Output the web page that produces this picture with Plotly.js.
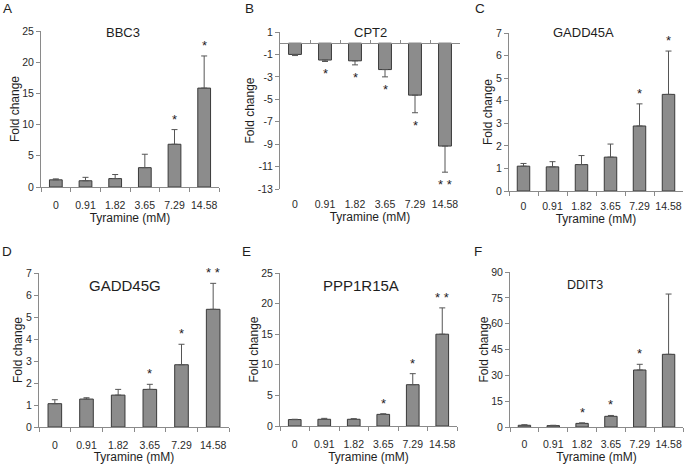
<!DOCTYPE html>
<html><head><meta charset="utf-8">
<script src="https://cdn.plot.ly/plotly-3.0.1.min.js"></script>
<style>html,body{margin:0;padding:0;background:#fff}#chart{width:685px;height:464px}</style>
</head><body><div id="chart"></div>
<script>
// ---- data ----
const doses = ['0', '0.91', '1.82', '3.65', '7.29', '14.58'];
const genes = ['BBC3', 'CPT2', 'GADD45A', 'GADD45G', 'PPP1R15A', 'DDIT3'];
const panelLetters = ['A', 'B', 'C', 'D', 'E', 'F'];

const bbc3 = [1.15, 1.0, 1.35, 3.1, 6.85, 15.85];
const bbc3Err = [0.15, 0.55, 0.65, 2.15, 2.35, 5.15];
const bbc3Sig = ['', '', '', '', '*', '*'];

const cpt2 = [-1.0, -1.5, -1.57, -2.35, -4.63, -9.17];
const cpt2Err = [0.1, 0.13, 0.36, 0.65, 1.57, 2.33];
const cpt2Sig = ['', '*', '*', '*', '*', '**'];

const gadd45a = [1.1, 1.07, 1.17, 1.5, 2.88, 4.28];
const gadd45aErr = [0.12, 0.23, 0.4, 0.58, 0.98, 1.92];
const gadd45aSig = ['', '', '', '', '*', '*'];

const gadd45g = [1.06, 1.27, 1.45, 1.71, 2.83, 5.35];
const gadd45gErr = [0.18, 0.06, 0.26, 0.23, 0.93, 1.18];
const gadd45gSig = ['', '', '', '*', '*', '**'];

const ppp1r15a = [1.05, 1.1, 1.1, 1.9, 6.75, 15.0];
const ppp1r15aErr = [0.05, 0.15, 0.1, 0.1, 1.8, 4.3];
const ppp1r15aSig = ['', '', '', '*', '*', '**'];

const ddit3 = [1.0, 0.8, 2.1, 6.2, 33.1, 42.2];
const ddit3Err = [0.3, 0.2, 0.3, 0.5, 3.3, 35.0];
const ddit3Sig = ['', '', '*', '*', '*', ''];

const yRanges = [[0, 25], [-13, 1], [0, 7], [0, 7], [0, 25], [0, 90]];
const yTicks = [
  [0, 5, 10, 15, 20, 25],
  [1, -1, -3, -5, -7, -9, -11, -13],
  [0, 1, 2, 3, 4, 5, 6, 7],
  [0, 1, 2, 3, 4, 5, 6, 7],
  [0, 5, 10, 15, 20, 25],
  [0, 15, 30, 45, 60, 75, 90]
];

// ---- layout geometry (pixels) and per-panel text sizes ----
const W = 685, H = 464;
const boxes = [ // [x0, x1, yTop, yBottom]
  [41, 219, 31, 187],
  [280, 460, 32, 189],
  [509, 683, 33, 191],
  [39, 229, 273, 427],
  [280, 457, 273, 426],
  [510, 683, 272, 427]
];
const labelGap = [8.5, 5.5, 5.5, 8.5, 8.5, 7.5];   // px from axis bottom to tick labels
const titleGap = [0.5, 0, 0, 6.5, 6.5, 6.5];       // px from tick labels to axis title
const titleSize = [13, 13, 13, 15, 15, 12.5];
const titlePos = [[123, 32], [370, 32], [583, 33], [125, 285], [361, 285], [585, 285]];
const letterPos = [[7, 9], [249, 9], [480, 9], [7, 251], [246, 251], [478, 251]];

const values = [bbc3, cpt2, gadd45a, gadd45g, ppp1r15a, ddit3];
const errs = [bbc3Err, cpt2Err, gadd45aErr, gadd45gErr, ppp1r15aErr, ddit3Err];
const sigs = [bbc3Sig, cpt2Sig, gadd45aSig, gadd45gSig, ppp1r15aSig, ddit3Sig];

const FONT = 'Liberation Sans, Arial, sans-serif';
const AXC = '#8a8a8a';
const TXT = '#1e1e1e';

const px = x => x / W;
const py = y => 1 - y / H;

const data = [];
const layout = {
  width: W, height: H,
  margin: {l: 0, r: 0, t: 0, b: 0},
  paper_bgcolor: '#fff', plot_bgcolor: '#fff',
  showlegend: false, bargap: 0.57,
  font: {family: FONT, color: TXT},
  annotations: []
};

for (let i = 0; i < 6; i++) {
  const n = i + 1;
  const xa = n === 1 ? 'x' : 'x' + n;
  const ya = n === 1 ? 'y' : 'y' + n;
  const xl = 'x' + (n + 6);            // overlay axis carrying tick labels + title
  const b = boxes[i];
  const neg = values[i].some(v => v < 0);
  const yr = yRanges[i];
  const d0 = py(b[3]), d1 = py(b[2]);

  data.push({
    type: 'bar', x: doses, y: values[i], xaxis: xa, yaxis: ya,
    marker: {color: '#8c8c8c', line: {color: '#3a3a3a', width: 1}},
    error_y: neg
      ? {type: 'data', symmetric: false, array: values[i].map(() => 0), arrayminus: errs[i], color: '#555', thickness: 1, width: 3}
      : {type: 'data', symmetric: false, array: errs[i], arrayminus: values[i].map(() => 0), color: '#555', thickness: 1, width: 3},
    hoverinfo: 'skip'
  });
  data.push({
    type: 'scatter', mode: 'markers', x: doses, y: values[i], xaxis: xl, yaxis: ya,
    marker: {opacity: 0}, hoverinfo: 'skip'
  });

  const xName = n === 1 ? 'xaxis' : 'xaxis' + n;
  const yName = n === 1 ? 'yaxis' : 'yaxis' + n;
  // main axis: line at zero with boundary ticks
  const mainAxis = {
    domain: [px(b[0]), px(b[1])], type: 'category',
    categoryorder: 'array', categoryarray: doses, range: [-0.5, 5.5],
    showline: true, linecolor: AXC, linewidth: 1,
    ticks: neg ? 'inside' : 'outside', tickson: 'boundaries', ticklen: neg ? 3 : 4, tickcolor: AXC,
    showticklabels: false, showgrid: false, zeroline: false, fixedrange: true
  };
  if (neg) {
    mainAxis.anchor = 'free';
    mainAxis.position = d0 + (0 - yr[0]) / (yr[1] - yr[0]) * (d1 - d0);
  } else {
    mainAxis.anchor = ya;
  }
  layout[xName] = mainAxis;
  // label axis at the bottom of the plot area
  layout['xaxis' + (n + 6)] = {
    domain: [px(b[0]), px(b[1])], anchor: ya, overlaying: xa, type: 'category',
    categoryorder: 'array', categoryarray: doses, range: [-0.5, 5.5],
    showline: false, ticks: 'outside', ticklen: labelGap[i], tickcolor: 'rgba(0,0,0,0)',
    tickangle: 0, tickfont: {size: 10.5, color: '#2a2a2a', family: FONT},
    showgrid: false, zeroline: false, fixedrange: true,
    title: {text: 'Tyramine (mM)', font: {size: 12, color: TXT, family: FONT}, standoff: titleGap[i]}
  };
  layout[yName] = {
    domain: [d0, d1], anchor: xa,
    range: yr, tickvals: yTicks[i], ticktext: yTicks[i].map(String),
    showline: true, linecolor: AXC, linewidth: 1,
    ticks: 'outside', ticklen: 4, tickcolor: AXC,
    tickfont: {size: 10.5, color: '#2a2a2a', family: FONT},
    showgrid: false, zeroline: false, fixedrange: true,
    title: {text: 'Fold change', font: {size: 12, color: TXT, family: FONT}, standoff: 0}
  };
  if (neg) layout[yName].position = px(b[0]);
  // gene title
  layout.annotations.push({
    xref: 'paper', yref: 'paper', x: px(titlePos[i][0]), y: py(titlePos[i][1]),
    xanchor: 'center', yanchor: 'middle', showarrow: false,
    text: genes[i], font: {size: titleSize[i], color: TXT, family: FONT}
  });
  // panel letter
  layout.annotations.push({
    xref: 'paper', yref: 'paper', x: px(letterPos[i][0]), y: py(letterPos[i][1]),
    xanchor: 'center', yanchor: 'middle', showarrow: false,
    text: panelLetters[i], font: {size: 13.5, color: TXT, family: FONT}
  });
  // significance stars (x as category index)
  for (let k = 0; k < doses.length; k++) {
    if (!sigs[i][k]) continue;
    const v = values[i][k];
    const tip = v < 0 ? v - errs[i][k] : v + errs[i][k];
    layout.annotations.push({
      xref: xa, yref: ya, x: k, y: tip,
      yshift: v < 0 ? -3 : 1, xanchor: 'center', yanchor: v < 0 ? 'top' : 'bottom',
      showarrow: false, text: sigs[i][k].split('').join(' '),
      font: {size: 13, color: TXT, family: FONT}
    });
  }
}

Plotly.newPlot('chart', data, layout, {displayModeBar: false, staticPlot: true});
</script>
</body></html>
